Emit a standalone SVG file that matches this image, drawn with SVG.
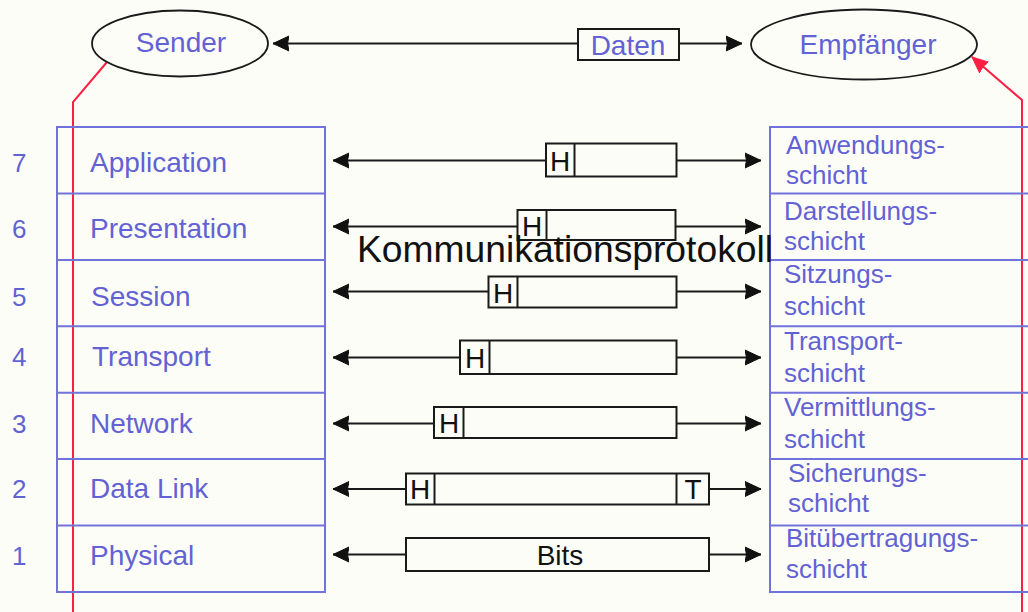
<svg xmlns="http://www.w3.org/2000/svg" width="1028" height="612" viewBox="0 0 1028 612">
<defs>
<style>
.bg{fill:#fdfdf7}
.blue{font-family:"Liberation Sans",Arial,sans-serif;fill:#6262d4}
.lbl{font-size:28px}
.num{font-size:26px}
.rt{font-size:26px}
.blk{font-family:"Liberation Sans",Arial,sans-serif;fill:#111}
.layer{fill:none;stroke:#7272dc;stroke-width:2}
.ell{fill:#fdfdf7;stroke:#1a1a1a;stroke-width:1.8}
.pdu{fill:#fdfdf7;stroke:#1a1a1a;stroke-width:2}
.arr{fill:none;stroke:#1a1a1a;stroke-width:2;marker-start:url(#ah);marker-end:url(#ah)}
.red{fill:none;stroke:#ff1e44;stroke-width:2}
</style>
<marker id="ah" markerUnits="userSpaceOnUse" markerWidth="20" markerHeight="20" refX="16" refY="10" orient="auto-start-reverse">
<path d="M0,2.5 L16,10 L0,17.5 L1.5,10 Z" fill="#111" stroke="#111" stroke-width="1" stroke-linejoin="round"/>
</marker>
<marker id="rah" markerUnits="userSpaceOnUse" markerWidth="20" markerHeight="20" refX="16" refY="10" orient="auto">
<path d="M0,3 L16,10 L0,17 L1.5,10 Z" fill="#ff1e44" stroke="#ff1e44" stroke-width="1" stroke-linejoin="round"/>
</marker>
</defs>
<rect class="bg" x="0" y="0" width="1028" height="612"/>

<g id="connectors">
<path class="red" d="M107,62 L73,102 L73,612"/>
<path class="red" d="M1022,612 L1022,100 L972,57" marker-end="url(#rah)"/>
<line class="arr" x1="273" y1="43.5" x2="742" y2="43.5"/>
<line class="arr" x1="333" y1="160.5" x2="761" y2="160.5"/>
<line class="arr" x1="333" y1="226.5" x2="761" y2="226.5"/>
<line class="arr" x1="333" y1="291.5" x2="761" y2="291.5"/>
<line class="arr" x1="333" y1="357.5" x2="761" y2="357.5"/>
<line class="arr" x1="333" y1="423.5" x2="761" y2="423.5"/>
<line class="arr" x1="333" y1="489" x2="761" y2="489"/>
<line class="arr" x1="333" y1="554.5" x2="761" y2="554.5"/>
</g>

<g id="sender">
<ellipse class="ell" cx="180" cy="43.5" rx="88" ry="33"/>
<text class="blue lbl" x="181" y="52" text-anchor="middle">Sender</text>
</g>
<g id="empfaenger">
<ellipse class="ell" cx="864" cy="44.5" rx="113" ry="35"/>
<text class="blue lbl" x="868" y="54" text-anchor="middle">Empfänger</text>
</g>
<g id="daten">
<rect class="pdu" x="578" y="29" width="101" height="31"/>
<text class="blue lbl" x="628" y="55" text-anchor="middle">Daten</text>
</g>

<g id="left-stack">
<rect class="layer" x="57" y="127" width="268" height="465"/>
<path class="layer" d="M57,193.4H325M57,259.9H325M57,326.3H325M57,392.7H325M57,459.1H325M57,525.6H325"/>
<g class="blue num">
<text x="12" y="172">7</text>
<text x="12" y="238">6</text>
<text x="12" y="306">5</text>
<text x="12" y="366">4</text>
<text x="12" y="433">3</text>
<text x="12" y="498">2</text>
<text x="12" y="565">1</text>
</g>
<g class="blue lbl">
<text x="90" y="172">Application</text>
<text x="90" y="238">Presentation</text>
<text x="91" y="306">Session</text>
<text x="92" y="366">Transport</text>
<text x="90" y="433">Network</text>
<text x="90" y="498">Data Link</text>
<text x="90" y="565">Physical</text>
</g>
</g>

<g id="right-stack">
<rect class="layer" x="770" y="127" width="280" height="465"/>
<path class="layer" d="M770,193.4H1050M770,259.9H1050M770,326.3H1050M770,392.7H1050M770,459.1H1050M770,525.6H1050"/>
<g class="blue rt">
<text x="786" y="154">Anwendungs-</text>
<text x="786" y="184">schicht</text>
<text x="784" y="220">Darstellungs-</text>
<text x="784" y="250">schicht</text>
<text x="784" y="283">Sitzungs-</text>
<text x="784" y="315">schicht</text>
<text x="784" y="350">Transport-</text>
<text x="784" y="382">schicht</text>
<text x="784" y="416">Vermittlungs-</text>
<text x="784" y="448">schicht</text>
<text x="788" y="482">Sicherungs-</text>
<text x="788" y="512">schicht</text>
<text x="786" y="547">Bitübertragungs-</text>
<text x="786" y="578">schicht</text>
</g>
</g>

<g id="pdu7">
<rect class="pdu" x="546" y="143.5" width="130.5" height="33"/>
<line class="pdu" x1="574.5" y1="143.5" x2="574.5" y2="176.5"/>
<text class="blk lbl" x="560" y="171" text-anchor="middle">H</text>
</g>
<g id="pdu6">
<rect class="pdu" x="517.5" y="210" width="158" height="30"/>
<line class="pdu" x1="546.5" y1="210" x2="546.5" y2="240"/>
<text class="blk lbl" x="532" y="236" text-anchor="middle">H</text>
</g>
<g id="pdu5">
<rect class="pdu" x="488.5" y="276.5" width="188" height="31"/>
<line class="pdu" x1="517.5" y1="276.5" x2="517.5" y2="307.5"/>
<text class="blk lbl" x="503" y="303" text-anchor="middle">H</text>
</g>
<g id="pdu4">
<rect class="pdu" x="460" y="340.5" width="216.5" height="33.5"/>
<line class="pdu" x1="489.5" y1="340.5" x2="489.5" y2="374"/>
<text class="blk lbl" x="475" y="368" text-anchor="middle">H</text>
</g>
<g id="pdu3">
<rect class="pdu" x="434" y="407" width="242.5" height="31"/>
<line class="pdu" x1="463.5" y1="407" x2="463.5" y2="438"/>
<text class="blk lbl" x="449" y="433" text-anchor="middle">H</text>
</g>
<g id="pdu2">
<rect class="pdu" x="406" y="473.5" width="303" height="31"/>
<line class="pdu" x1="434.5" y1="473.5" x2="434.5" y2="504.5"/>
<line class="pdu" x1="676.5" y1="473.5" x2="676.5" y2="504.5"/>
<text class="blk lbl" x="420" y="499" text-anchor="middle">H</text>
<text class="blk lbl" x="693" y="499" text-anchor="middle">T</text>
</g>
<g id="pdu1">
<rect class="pdu" x="406" y="538" width="303" height="33"/>
<text class="blk lbl" x="560" y="565" text-anchor="middle">Bits</text>
</g>

<g id="protocol-label">
<text class="blk" x="357" y="262" font-size="37" textLength="416" lengthAdjust="spacingAndGlyphs">Kommunikationsprotokoll</text>
</g>
</svg>
